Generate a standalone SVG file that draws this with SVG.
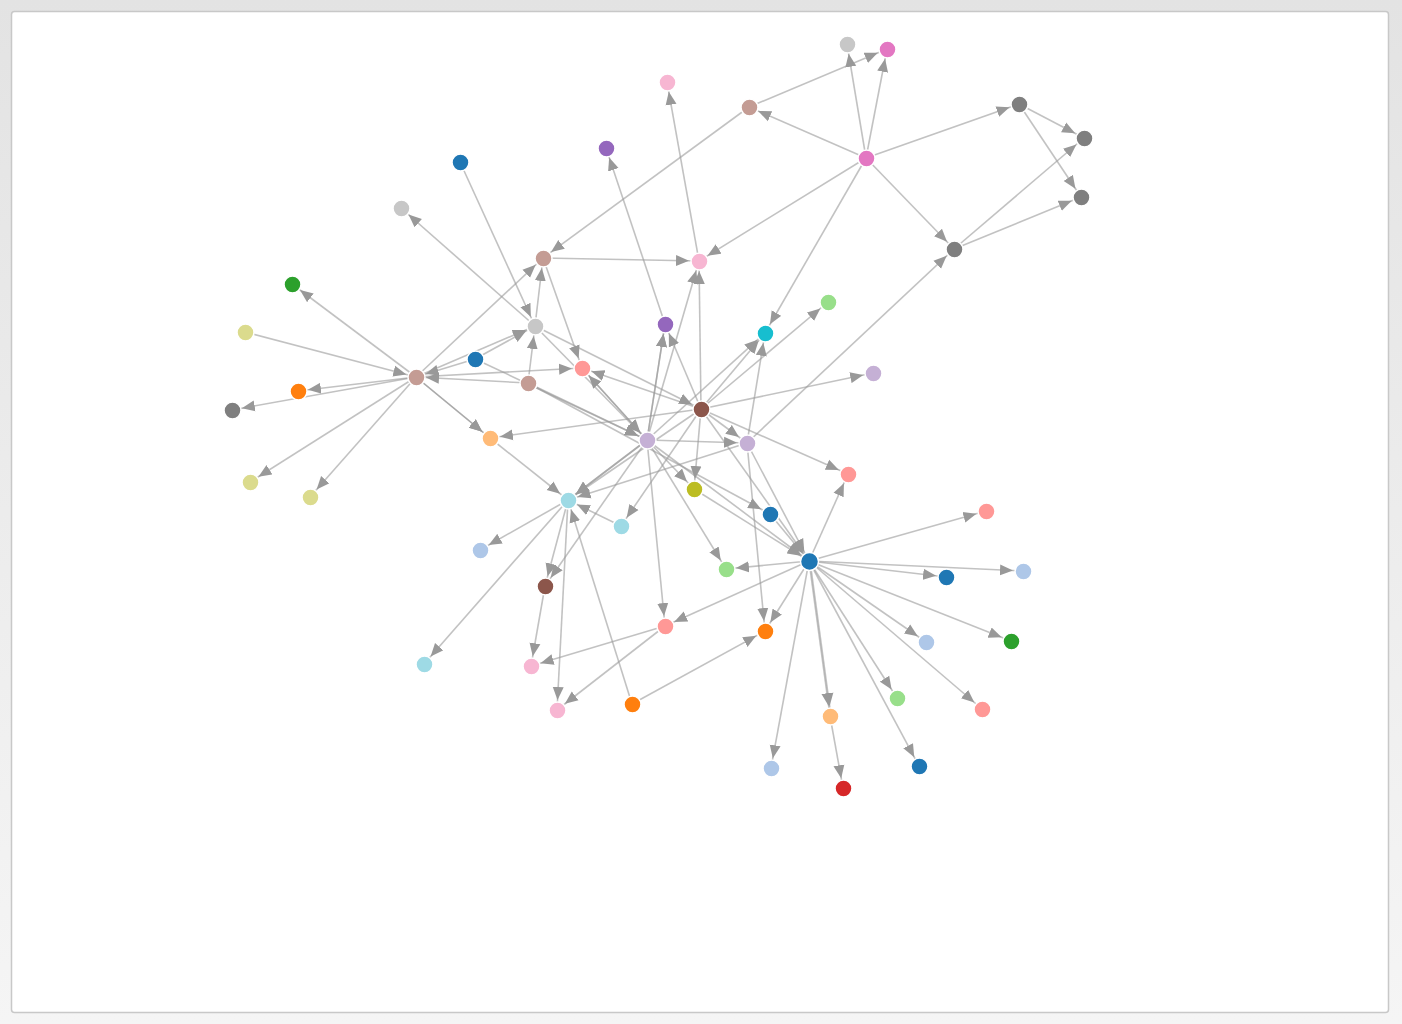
<svg xmlns="http://www.w3.org/2000/svg" width="1402" height="1024" viewBox="0 0 1402 1024">
<defs>
<linearGradient id="bg" x1="0" y1="0" x2="0" y2="1"><stop offset="0" stop-color="#e3e3e3"/><stop offset="1" stop-color="#f5f5f5"/></linearGradient>
<marker id="arr" viewBox="0 -6 13 12" refX="23" refY="0" markerWidth="13" markerHeight="12" markerUnits="userSpaceOnUse" orient="auto"><path d="M0,-5.5L13,0L0,5.5Z" fill="#999"/></marker>
</defs>
<style>
.links line{stroke:#999;stroke-opacity:.6;stroke-width:1.6px;marker-end:url(#arr)}
.nodes circle{stroke:#fff;stroke-width:1.5px}
</style>
<rect x="0" y="0" width="1402" height="1024" fill="url(#bg)"/>
<rect x="11.5" y="11.5" width="1377" height="1001" rx="3" fill="#fff" stroke="#c8c8c8" stroke-width="1.5"/>
<g class="links">
<line x1="866" y1="158" x2="847" y2="44"/>
<line x1="866" y1="158" x2="887" y2="49"/>
<line x1="749" y1="107" x2="887" y2="49"/>
<line x1="866" y1="158" x2="749" y2="107"/>
<line x1="866" y1="158" x2="1019" y2="104"/>
<line x1="866" y1="158" x2="954" y2="249"/>
<line x1="866" y1="158" x2="699" y2="261"/>
<line x1="866" y1="158" x2="765" y2="333"/>
<line x1="1019" y1="104" x2="1084" y2="138"/>
<line x1="1019" y1="104" x2="1081" y2="197"/>
<line x1="954" y1="249" x2="1084" y2="138"/>
<line x1="954" y1="249" x2="1081" y2="197"/>
<line x1="749" y1="107" x2="543" y2="258"/>
<line x1="699" y1="261" x2="667" y2="82"/>
<line x1="665" y1="324" x2="606" y2="148"/>
<line x1="543" y1="258" x2="699" y2="261"/>
<line x1="747" y1="443" x2="954" y2="249"/>
<line x1="535" y1="326" x2="401" y2="208"/>
<line x1="416" y1="377" x2="292" y2="284"/>
<line x1="245" y1="332" x2="416" y2="377"/>
<line x1="416" y1="377" x2="298" y2="391"/>
<line x1="416" y1="377" x2="232" y2="410"/>
<line x1="416" y1="377" x2="250" y2="482"/>
<line x1="416" y1="377" x2="310" y2="497"/>
<line x1="416" y1="377" x2="490" y2="438"/>
<line x1="416" y1="377" x2="490" y2="438"/>
<line x1="416" y1="377" x2="543" y2="258"/>
<line x1="416" y1="377" x2="535" y2="326"/>
<line x1="475" y1="359" x2="535" y2="326"/>
<line x1="475" y1="359" x2="416" y2="377"/>
<line x1="528" y1="383" x2="416" y2="377"/>
<line x1="416" y1="377" x2="582" y2="368"/>
<line x1="528" y1="383" x2="535" y2="326"/>
<line x1="535" y1="326" x2="543" y2="258"/>
<line x1="460" y1="162" x2="535" y2="326"/>
<line x1="543" y1="258" x2="582" y2="368"/>
<line x1="535" y1="326" x2="701" y2="409"/>
<line x1="535" y1="326" x2="647" y2="440"/>
<line x1="582" y1="368" x2="647" y2="440"/>
<line x1="647" y1="440" x2="582" y2="368"/>
<line x1="701" y1="409" x2="582" y2="368"/>
<line x1="647" y1="440" x2="665" y2="324"/>
<line x1="647" y1="440" x2="665" y2="324"/>
<line x1="701" y1="409" x2="665" y2="324"/>
<line x1="647" y1="440" x2="699" y2="261"/>
<line x1="701" y1="409" x2="699" y2="261"/>
<line x1="701" y1="409" x2="765" y2="333"/>
<line x1="647" y1="440" x2="765" y2="333"/>
<line x1="747" y1="443" x2="765" y2="333"/>
<line x1="701" y1="409" x2="828" y2="302"/>
<line x1="701" y1="409" x2="873" y2="373"/>
<line x1="701" y1="409" x2="848" y2="474"/>
<line x1="701" y1="409" x2="747" y2="443"/>
<line x1="647" y1="440" x2="747" y2="443"/>
<line x1="701" y1="409" x2="490" y2="438"/>
<line x1="528" y1="383" x2="647" y2="440"/>
<line x1="475" y1="359" x2="647" y2="440"/>
<line x1="528" y1="383" x2="770" y2="514"/>
<line x1="701" y1="409" x2="694" y2="489"/>
<line x1="647" y1="440" x2="694" y2="489"/>
<line x1="701" y1="409" x2="621" y2="526"/>
<line x1="747" y1="443" x2="568" y2="500"/>
<line x1="647" y1="440" x2="568" y2="500"/>
<line x1="647" y1="440" x2="568" y2="500"/>
<line x1="701" y1="409" x2="568" y2="500"/>
<line x1="647" y1="440" x2="545" y2="586"/>
<line x1="568" y1="500" x2="545" y2="586"/>
<line x1="545" y1="586" x2="531" y2="666"/>
<line x1="568" y1="500" x2="557" y2="710"/>
<line x1="665" y1="626" x2="531" y2="666"/>
<line x1="665" y1="626" x2="557" y2="710"/>
<line x1="632" y1="704" x2="568" y2="500"/>
<line x1="621" y1="526" x2="568" y2="500"/>
<line x1="568" y1="500" x2="480" y2="550"/>
<line x1="568" y1="500" x2="424" y2="664"/>
<line x1="632" y1="704" x2="765" y2="631"/>
<line x1="647" y1="440" x2="665" y2="626"/>
<line x1="809" y1="561" x2="665" y2="626"/>
<line x1="490" y1="438" x2="568" y2="500"/>
<line x1="647" y1="440" x2="726" y2="569"/>
<line x1="647" y1="440" x2="809" y2="561"/>
<line x1="694" y1="489" x2="809" y2="561"/>
<line x1="770" y1="514" x2="809" y2="561"/>
<line x1="747" y1="443" x2="809" y2="561"/>
<line x1="701" y1="409" x2="809" y2="561"/>
<line x1="747" y1="443" x2="765" y2="631"/>
<line x1="809" y1="561" x2="765" y2="631"/>
<line x1="809" y1="561" x2="848" y2="474"/>
<line x1="809" y1="561" x2="986" y2="511"/>
<line x1="809" y1="561" x2="1023" y2="571"/>
<line x1="809" y1="561" x2="946" y2="577"/>
<line x1="809" y1="561" x2="1011" y2="641"/>
<line x1="809" y1="561" x2="926" y2="642"/>
<line x1="809" y1="561" x2="982" y2="709"/>
<line x1="809" y1="561" x2="897" y2="698"/>
<line x1="809" y1="561" x2="919" y2="766"/>
<line x1="809" y1="561" x2="830" y2="716"/>
<line x1="810" y1="561" x2="831" y2="716"/>
<line x1="809" y1="561" x2="771" y2="768"/>
<line x1="809" y1="561" x2="726" y2="569"/>
<line x1="830" y1="716" x2="843" y2="788"/>
</g>
<g class="nodes">
<g id="n1"><circle cx="847.5" cy="44.5" r="8.5" fill="#c7c7c7"/></g>
<g id="n2"><circle cx="887.5" cy="49.5" r="8.5" fill="#e377c2"/></g>
<g id="n3"><circle cx="667.5" cy="82.5" r="8.5" fill="#f7b6d2"/></g>
<g id="n4"><circle cx="749.5" cy="107.5" r="8.5" fill="#c49c94"/></g>
<g id="n5"><circle cx="1019.5" cy="104.5" r="8.5" fill="#7f7f7f"/></g>
<g id="n6"><circle cx="1084.5" cy="138.5" r="8.5" fill="#7f7f7f"/></g>
<g id="n7"><circle cx="866.5" cy="158.5" r="8.5" fill="#e377c2"/></g>
<g id="n8"><circle cx="606.5" cy="148.5" r="8.5" fill="#9467bd"/></g>
<g id="n9"><circle cx="460.5" cy="162.5" r="8.5" fill="#1f77b4"/></g>
<g id="n10"><circle cx="1081.5" cy="197.5" r="8.5" fill="#7f7f7f"/></g>
<g id="n11"><circle cx="401.5" cy="208.5" r="8.5" fill="#c7c7c7"/></g>
<g id="n12"><circle cx="954.5" cy="249.5" r="8.5" fill="#7f7f7f"/></g>
<g id="n13"><circle cx="543.5" cy="258.5" r="8.5" fill="#c49c94"/></g>
<g id="n14"><circle cx="699.5" cy="261.5" r="8.5" fill="#f7b6d2"/></g>
<g id="n15"><circle cx="292.5" cy="284.5" r="8.5" fill="#2ca02c"/></g>
<g id="n16"><circle cx="828.5" cy="302.5" r="8.5" fill="#98df8a"/></g>
<g id="n17"><circle cx="535.5" cy="326.5" r="8.5" fill="#c7c7c7"/></g>
<g id="n18"><circle cx="665.5" cy="324.5" r="8.5" fill="#9467bd"/></g>
<g id="n19"><circle cx="765.5" cy="333.5" r="8.5" fill="#17becf"/></g>
<g id="n20"><circle cx="245.5" cy="332.5" r="8.5" fill="#dbdb8d"/></g>
<g id="n21"><circle cx="475.5" cy="359.5" r="8.5" fill="#1f77b4"/></g>
<g id="n22"><circle cx="582.5" cy="368.5" r="8.5" fill="#ff9896"/></g>
<g id="n23"><circle cx="873.5" cy="373.5" r="8.5" fill="#c5b0d5"/></g>
<g id="n24"><circle cx="416.5" cy="377.5" r="8.5" fill="#c49c94"/></g>
<g id="n25"><circle cx="528.5" cy="383.5" r="8.5" fill="#c49c94"/></g>
<g id="n26"><circle cx="298.5" cy="391.5" r="8.5" fill="#ff7f0e"/></g>
<g id="n27"><circle cx="232.5" cy="410.5" r="8.5" fill="#7f7f7f"/></g>
<g id="n28"><circle cx="701.5" cy="409.5" r="8.5" fill="#8c564b"/></g>
<g id="n29"><circle cx="490.5" cy="438.5" r="8.5" fill="#ffbb78"/></g>
<g id="n30"><circle cx="647.5" cy="440.5" r="8.5" fill="#c5b0d5"/></g>
<g id="n31"><circle cx="747.5" cy="443.5" r="8.5" fill="#c5b0d5"/></g>
<g id="n32"><circle cx="848.5" cy="474.5" r="8.5" fill="#ff9896"/></g>
<g id="n33"><circle cx="250.5" cy="482.5" r="8.5" fill="#dbdb8d"/></g>
<g id="n34"><circle cx="310.5" cy="497.5" r="8.5" fill="#dbdb8d"/></g>
<g id="n35"><circle cx="694.5" cy="489.5" r="8.5" fill="#bcbd22"/></g>
<g id="n36"><circle cx="568.5" cy="500.5" r="8.5" fill="#9edae5"/></g>
<g id="n37"><circle cx="770.5" cy="514.5" r="8.5" fill="#1f77b4"/></g>
<g id="n38"><circle cx="986.5" cy="511.5" r="8.5" fill="#ff9896"/></g>
<g id="n39"><circle cx="621.5" cy="526.5" r="8.5" fill="#9edae5"/></g>
<g id="n40"><circle cx="480.5" cy="550.5" r="8.5" fill="#aec7e8"/></g>
<g id="n41"><circle cx="809.5" cy="561.5" r="9" fill="#1f77b4"/></g>
<g id="n42"><circle cx="1023.5" cy="571.5" r="8.5" fill="#aec7e8"/></g>
<g id="n43"><circle cx="726.5" cy="569.5" r="8.5" fill="#98df8a"/></g>
<g id="n44"><circle cx="946.5" cy="577.5" r="8.5" fill="#1f77b4"/></g>
<g id="n45"><circle cx="545.5" cy="586.5" r="8.5" fill="#8c564b"/></g>
<g id="n46"><circle cx="665.5" cy="626.5" r="8.5" fill="#ff9896"/></g>
<g id="n47"><circle cx="765.5" cy="631.5" r="8.5" fill="#ff7f0e"/></g>
<g id="n48"><circle cx="926.5" cy="642.5" r="8.5" fill="#aec7e8"/></g>
<g id="n49"><circle cx="1011.5" cy="641.5" r="8.5" fill="#2ca02c"/></g>
<g id="n50"><circle cx="424.5" cy="664.5" r="8.5" fill="#9edae5"/></g>
<g id="n51"><circle cx="531.5" cy="666.5" r="8.5" fill="#f7b6d2"/></g>
<g id="n52"><circle cx="897.5" cy="698.5" r="8.5" fill="#98df8a"/></g>
<g id="n53"><circle cx="982.5" cy="709.5" r="8.5" fill="#ff9896"/></g>
<g id="n54"><circle cx="557.5" cy="710.5" r="8.5" fill="#f7b6d2"/></g>
<g id="n55"><circle cx="632.5" cy="704.5" r="8.5" fill="#ff7f0e"/></g>
<g id="n56"><circle cx="830.5" cy="716.5" r="8.5" fill="#ffbb78"/></g>
<g id="n57"><circle cx="771.5" cy="768.5" r="8.5" fill="#aec7e8"/></g>
<g id="n58"><circle cx="919.5" cy="766.5" r="8.5" fill="#1f77b4"/></g>
<g id="n59"><circle cx="843.5" cy="788.5" r="8.5" fill="#d62728"/></g>
</g>
</svg>
